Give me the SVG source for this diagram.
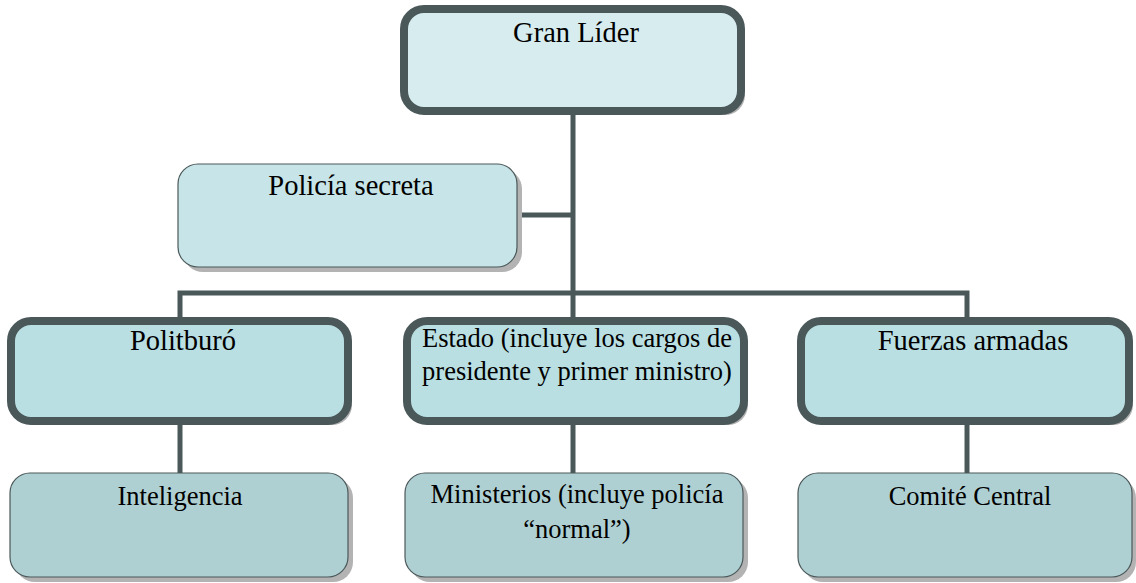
<svg xmlns="http://www.w3.org/2000/svg" width="1136" height="583" viewBox="0 0 1136 583">
<style>
.sh{fill:#b3b3b3}
.thick{stroke:#4b5859;stroke-width:8}
.thin{stroke:#4b5859;stroke-width:1.2}
.conn{stroke:#4b5859;stroke-width:5;fill:none}
</style>
<rect width="1136" height="583" fill="#fff"/>
<g id="connectors">
<line class="conn" x1="573" y1="111" x2="573" y2="321"/>
<line class="conn" x1="517" y1="215" x2="573" y2="215"/>
<polyline class="conn" points="180,321 180,293 967,293 967,321"/>
<line class="conn" x1="180" y1="421" x2="180" y2="473"/>
<line class="conn" x1="573" y1="421" x2="573" y2="473"/>
<line class="conn" x1="967" y1="421" x2="967" y2="473"/>
</g>
<g font-family="Liberation Serif, Times New Roman, serif" font-size="28.5" fill="#000" text-anchor="middle">
<g id="gran-lider">
<rect class="sh" x="408" y="13" width="337" height="102" rx="20"/>
<rect class="thick" x="404" y="9" width="337" height="102" rx="20" fill="#d7ecef"/>
<text x="576" y="42" fill="#000">Gran Líder</text>
</g>
<g id="policia-secreta">
<rect class="sh" x="183" y="169" width="339" height="103" rx="20"/>
<rect class="thin" x="178" y="164" width="339" height="103" rx="20" fill="#c7e5e8"/>
<text x="351" y="195" fill="#000">Policía secreta</text>
</g>
<g id="politburo">
<rect class="sh" x="15" y="325" width="337" height="100" rx="20"/>
<rect class="thick" x="11" y="321" width="337" height="100" rx="20" fill="#b9dfe2"/>
<text x="183" y="350" fill="#000">Politburó</text>
</g>
<g id="estado">
<rect class="sh" x="411" y="325" width="337" height="100" rx="20"/>
<rect class="thick" x="407" y="321" width="337" height="100" rx="20" fill="#b9dfe2"/>
<text x="577" y="347" font-size="26.5" fill="#000">Estado (incluye los cargos de</text>
<text x="577" y="380" font-size="26.5" fill="#000">presidente y primer ministro)</text>
</g>
<g id="fuerzas-armadas">
<rect class="sh" x="805" y="325" width="328" height="100" rx="20"/>
<rect class="thick" x="801" y="321" width="328" height="100" rx="20" fill="#b9dfe2"/>
<text x="973" y="350" fill="#000">Fuerzas armadas</text>
</g>
<g id="inteligencia">
<rect class="sh" x="15" y="478" width="338" height="104" rx="20"/>
<rect class="thin" x="10" y="473" width="338" height="104" rx="20" fill="#afd0d3"/>
<text x="180" y="505" font-size="26.5" fill="#000">Inteligencia</text>
</g>
<g id="ministerios">
<rect class="sh" x="410" y="478" width="338" height="104" rx="20"/>
<rect class="thin" x="405" y="473" width="338" height="104" rx="20" fill="#afd0d3"/>
<text x="577" y="503" font-size="26.5" fill="#000">Ministerios (incluye policía</text>
<text x="577" y="538" font-size="26.5" fill="#000">“normal”)</text>
</g>
<g id="comite-central">
<rect class="sh" x="803" y="478" width="333" height="104" rx="20"/>
<rect class="thin" x="798" y="473" width="334" height="104" rx="20" fill="#afd0d3"/>
<text x="970" y="505" font-size="26.5" fill="#000">Comité Central</text>
</g>
</g>
</svg>
